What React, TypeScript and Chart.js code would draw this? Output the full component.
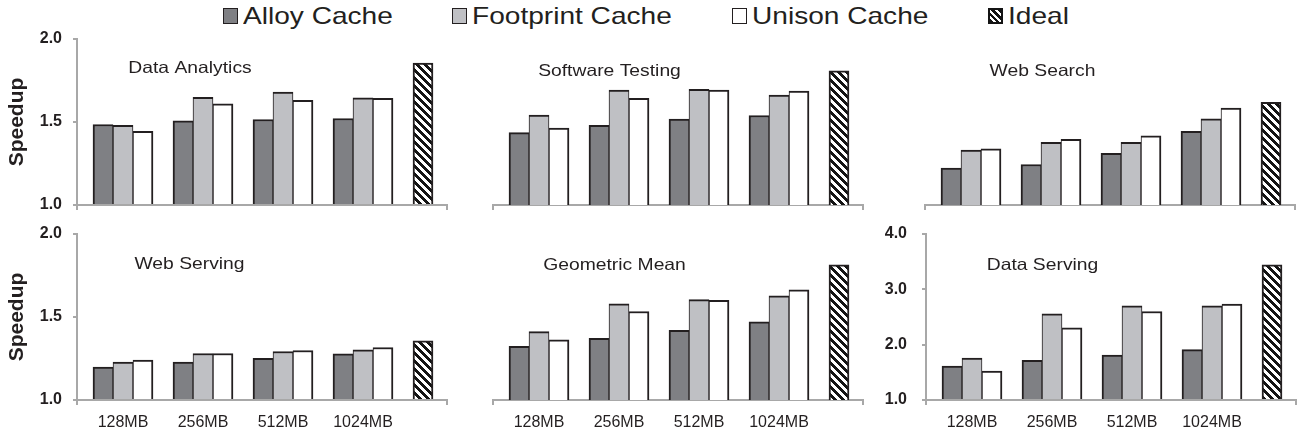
import React, { useEffect, useRef } from 'react';
import { Chart, registerables } from 'chart.js';

Chart.register(...registerables);

// ---------- data ----------
const memorySizes = ['128MB', '256MB', '512MB', '1024MB'];
const seriesNames = ['Alloy Cache', 'Footprint Cache', 'Unison Cache', 'Ideal'];

const dataAnalyticsAlloy = [1.485, 1.507, 1.515, 1.521];
const dataAnalyticsFootprint = [1.48, 1.648, 1.68, 1.646];
const dataAnalyticsUnison = [1.444, 1.61, 1.63, 1.642];
const dataAnalyticsIdeal = 1.855;

const softwareTestingAlloy = [1.436, 1.48, 1.517, 1.539];
const softwareTestingFootprint = [1.541, 1.693, 1.697, 1.662];
const softwareTestingUnison = [1.464, 1.642, 1.693, 1.687];
const softwareTestingIdeal = 1.808;

const webSearchAlloy = [1.222, 1.244, 1.311, 1.444];
const webSearchFootprint = [1.331, 1.378, 1.378, 1.519];
const webSearchUnison = [1.339, 1.396, 1.416, 1.584];
const webSearchIdeal = 1.618;

const webServingAlloy = [1.199, 1.229, 1.251, 1.278];
const webServingFootprint = [1.229, 1.28, 1.292, 1.302];
const webServingUnison = [1.241, 1.28, 1.298, 1.316];
const webServingIdeal = 1.356;

const geoMeanAlloy = [1.324, 1.372, 1.42, 1.471];
const geoMeanFootprint = [1.412, 1.579, 1.605, 1.628];
const geoMeanUnison = [1.362, 1.533, 1.6, 1.664];
const geoMeanIdeal = 1.815;

const dataServingAlloy = [1.612, 1.715, 1.812, 1.909];
const dataServingFootprint = [1.758, 2.558, 2.703, 2.703];
const dataServingUnison = [1.521, 2.303, 2.6, 2.733];
const dataServingIdeal = 3.442;

// ---------- styling / layout ----------
const FONT = '"Liberation Sans", Arial, Helvetica, sans-serif';
const INK = '#231f20';
const AXIS = '#a8a8a8';
const ALLOY_FILL = '#7f8084';
const FOOTPRINT_FILL = '#bfc0c4';
const UNISON_FILL = '#ffffff';
const TEXT_STRETCH = 1.17;

// groups sit on integer positions; the Ideal bar follows one bar-gap after the last group
const groupPositions = memorySizes.map((_, i) => i);
const idealPosition = memorySizes.length - 1 + 0.75;
const xMin = -0.575;
const xMax = 4.05;
const yBase = 1;

type Spec = {
  title: string;
  alloy: number[];
  footprint: number[];
  unison: number[];
  ideal: number;
  yMax: number;
  yStep: number;
  yAxis: boolean;
  yTitle: boolean;
  xLabels: boolean;
  box: [number, number, number, number];
  pad: { left: number; right: number; top: number; bottom: number };
  yWidth: number;
  xHeight: number;
  yTickPad: number;
  titleDx: number;
  titleDy: number;
};

const panels: Spec[] = [
  {
    title: 'Data Analytics', alloy: dataAnalyticsAlloy, footprint: dataAnalyticsFootprint,
    unison: dataAnalyticsUnison, ideal: dataAnalyticsIdeal, yMax: 2, yStep: 0.5,
    yAxis: true, yTitle: true, xLabels: false, box: [0, 25, 470, 191],
    pad: { left: 0, right: 23, top: 14, bottom: 0 }, yWidth: 77, xHeight: 11, yTickPad: 11, titleDx: 113, titleDy: 29,
  },
  {
    title: 'Software Testing', alloy: softwareTestingAlloy, footprint: softwareTestingFootprint,
    unison: softwareTestingUnison, ideal: softwareTestingIdeal, yMax: 2, yStep: 0.5,
    yAxis: false, yTitle: false, xLabels: false, box: [470, 25, 420, 191],
    pad: { left: 23, right: 27, top: 14, bottom: 0 }, yWidth: 0, xHeight: 11, yTickPad: 11, titleDx: 116.5, titleDy: 32,
  },
  {
    title: 'Web Search', alloy: webSearchAlloy, footprint: webSearchFootprint,
    unison: webSearchUnison, ideal: webSearchIdeal, yMax: 2, yStep: 0.5,
    yAxis: false, yTitle: false, xLabels: false, box: [860, 25, 441, 191],
    pad: { left: 65, right: 6, top: 14, bottom: 0 }, yWidth: 0, xHeight: 11, yTickPad: 11, titleDx: 117.5, titleDy: 32,
  },
  {
    title: 'Web Serving', alloy: webServingAlloy, footprint: webServingFootprint,
    unison: webServingUnison, ideal: webServingIdeal, yMax: 2, yStep: 0.5,
    yAxis: true, yTitle: true, xLabels: true, box: [0, 220, 470, 216],
    pad: { left: 0, right: 23, top: 14, bottom: 0 }, yWidth: 77, xHeight: 36, yTickPad: 11, titleDx: 112.5, titleDy: 30,
  },
  {
    title: 'Geometric Mean', alloy: geoMeanAlloy, footprint: geoMeanFootprint,
    unison: geoMeanUnison, ideal: geoMeanIdeal, yMax: 2, yStep: 0.5,
    yAxis: false, yTitle: false, xLabels: true, box: [470, 220, 420, 216],
    pad: { left: 23, right: 27, top: 14, bottom: 0 }, yWidth: 0, xHeight: 36, yTickPad: 11, titleDx: 121.5, titleDy: 31,
  },
  {
    title: 'Data Serving', alloy: dataServingAlloy, footprint: dataServingFootprint,
    unison: dataServingUnison, ideal: dataServingIdeal, yMax: 4, yStep: 1,
    yAxis: true, yTitle: false, xLabels: true, box: [860, 220, 441, 216],
    pad: { left: 0, right: 5, top: 14, bottom: 0 }, yWidth: 66, xHeight: 36, yTickPad: 15, titleDx: 116.5, titleDy: 31,
  },
];

function makeHatch(): CanvasPattern | string {
  const size = 8;
  const c = document.createElement('canvas');
  c.width = size;
  c.height = size;
  const g = c.getContext('2d');
  if (!g) return '#000';
  const img = g.createImageData(size, size);
  for (let y = 0; y < size; y++) {
    for (let x = 0; x < size; x++) {
      const on = ((x - y + size * 2) % size) < 4;
      const i = (y * size + x) * 4;
      const v = on ? 20 : 255;
      img.data[i] = v;
      img.data[i + 1] = v;
      img.data[i + 2] = v;
      img.data[i + 3] = 255;
    }
  }
  g.putImageData(img, 0, 0);
  return g.createPattern(c, 'repeat') || '#000';
}

const panelTitlePlugin = {
  id: 'panelTitle',
  afterDatasetsDraw(chart: any, _args: any, opts: any) {
    if (!opts || !opts.text) return;
    const { ctx, chartArea } = chart;
    ctx.save();
    ctx.font = `${opts.size}px ${FONT}`;
    ctx.fillStyle = opts.color;
    ctx.textAlign = 'center';
    ctx.textBaseline = 'middle';
    ctx.translate(chartArea.left + opts.dx, chartArea.top + opts.dy);
    ctx.scale(opts.stretch, 1);
    ctx.fillText(opts.text, 0, 0);
    ctx.restore();
  },
};

function Panel({ spec }: { spec: Spec }) {
  const ref = useRef<HTMLCanvasElement | null>(null);
  useEffect(() => {
    if (!ref.current) return;
    const hatch = makeHatch();
    const isEnd = (v: number) => v === xMin || v === xMax;
    const chart = new Chart(ref.current, {
      type: 'bar',
      data: {
        datasets: [
          {
            label: seriesNames[0],
            data: spec.alloy.map((y, i) => ({ x: groupPositions[i], y })),
            backgroundColor: ALLOY_FILL,
            borderColor: INK,
            borderWidth: { top: 2, left: 2, right: 1, bottom: 0 },
          },
          {
            label: seriesNames[1],
            data: spec.footprint.map((y, i) => ({ x: groupPositions[i], y })),
            backgroundColor: FOOTPRINT_FILL,
            borderColor: INK,
            borderWidth: { top: 2, left: 1, right: 1, bottom: 0 },
          },
          {
            label: seriesNames[2],
            data: spec.unison.map((y, i) => ({ x: groupPositions[i], y })),
            backgroundColor: UNISON_FILL,
            borderColor: INK,
            borderWidth: { top: 2, left: 1, right: 2, bottom: 0 },
          },
          {
            label: seriesNames[3],
            data: [{ x: idealPosition, y: spec.ideal }],
            backgroundColor: hatch as any,
            borderColor: INK,
            borderWidth: { top: 2, left: 2, right: 2, bottom: 0 },
          },
        ] as any,
      },
      options: {
        animation: false,
        responsive: false,
        maintainAspectRatio: false,
        devicePixelRatio: 1,
        layout: { padding: spec.pad },
        datasets: {
          bar: {
            barThickness: 20,
            skipNull: true,
            grouped: true,
            base: yBase,
            borderSkipped: 'start',
          } as any,
        },
        plugins: {
          legend: { display: false },
          tooltip: { enabled: false },
          panelTitle: { text: spec.title, size: 16.5, color: INK, dx: spec.titleDx, dy: spec.titleDy, stretch: TEXT_STRETCH },
        } as any,
        scales: {
          x: {
            type: 'linear',
            min: xMin,
            max: xMax,
            offset: false,
            z: 1,
            afterBuildTicks: (scale: any) => {
              scale.ticks = [xMin, ...groupPositions, xMax].map((v) => ({ value: v }));
            },
            afterFit: (scale: any) => {
              scale.height = spec.xHeight;
              scale.paddingLeft = 0;
              scale.paddingRight = 0;
            },
            border: { display: true, color: AXIS, width: 2 },
            grid: {
              offset: false,
              drawOnChartArea: false,
              drawTicks: true,
              tickLength: 5,
              lineWidth: 2,
              color: (ctx: any) => (ctx.tick && isEnd(ctx.tick.value) ? AXIS : 'rgba(0,0,0,0)'),
            },
            ticks: {
              display: spec.xLabels,
              autoSkip: false,
              maxRotation: 0,
              minRotation: 0,
              padding: 8,
              color: INK,
              font: { family: FONT, size: 16 },
              callback: (v: any) => {
                const n = Number(v);
                return Number.isInteger(n) && n >= 0 && n < memorySizes.length ? memorySizes[n] : '';
              },
            },
          },
          y: {
            display: spec.yAxis,
            min: yBase,
            max: spec.yMax,
            beginAtZero: false,
            afterFit: (scale: any) => {
              scale.width = spec.yWidth;
              scale.paddingTop = 0;
              scale.paddingBottom = 0;
            },
            border: { display: true, color: AXIS, width: 2 },
            grid: {
              drawOnChartArea: false,
              drawTicks: true,
              tickLength: 4,
              lineWidth: 2,
              color: AXIS,
            },
            ticks: {
              stepSize: spec.yStep,
              padding: spec.yTickPad,
              color: INK,
              font: { family: FONT, size: 16, weight: 'bold' },
              callback: (v: any) => Number(v).toFixed(1),
            },
            title: {
              display: spec.yTitle,
              text: 'Speedup',
              color: INK,
              font: { family: FONT, size: 21, weight: 'bold' },
              padding: { top: 5, bottom: 0 },
            },
          },
        } as any,
      },
      plugins: [panelTitlePlugin as any],
    });
    return () => chart.destroy();
  }, [spec]);

  const [left, top, width, height] = spec.box;
  return (
    <canvas
      ref={ref}
      width={width}
      height={height}
      style={{ position: 'absolute', left, top, width, height }}
    />
  );
}

const legendFills = [
  ALLOY_FILL,
  FOOTPRINT_FILL,
  UNISON_FILL,
  'repeating-linear-gradient(45deg, #141414 0px, #141414 2.5px, #ffffff 2.5px, #ffffff 4.5px)',
];
const legendLefts = [223, 452, 732, 988];

function Legend() {
  return (
    <>
      {seriesNames.map((name, i) => (
        <div key={name} style={{ position: 'absolute', left: legendLefts[i], top: 0, height: 30, width: 260 }}>
          <div
            style={{
              position: 'absolute',
              left: 0,
              top: 8,
              width: 15,
              height: 16,
              boxSizing: 'border-box',
              border: i === 3 ? '2px solid #141414' : `1.5px solid ${INK}`,
              background: legendFills[i],
            }}
          />
          <span
            style={{
              position: 'absolute',
              left: 20,
              top: 4,
              fontFamily: FONT,
              fontSize: 24,
              lineHeight: '24px',
              color: INK,
              whiteSpace: 'nowrap',
              transform: `scaleX(${TEXT_STRETCH})`,
              transformOrigin: '0 0',
            }}
          >
            {name}
          </span>
        </div>
      ))}
    </>
  );
}

export default function App() {
  return (
    <div
      style={{
        position: 'absolute',
        left: 0,
        top: 0,
        width: 1301,
        height: 436,
        background: '#ffffff',
        overflow: 'hidden',
      }}
    >
      <Legend />
      {panels.map((p) => (
        <Panel key={p.title} spec={p} />
      ))}
    </div>
  );
}
